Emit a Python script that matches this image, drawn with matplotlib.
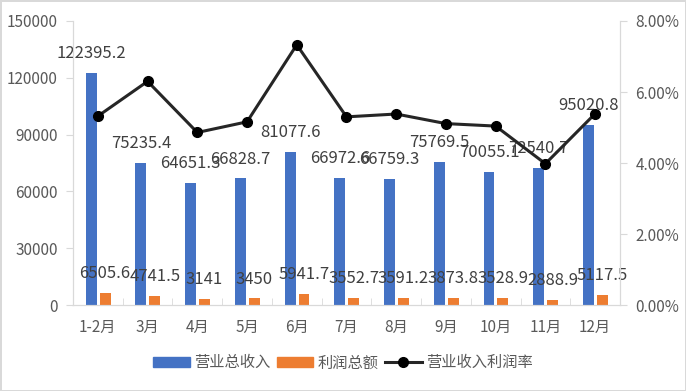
import matplotlib.pyplot as plt
import numpy as np
from matplotlib.lines import Line2D
from matplotlib.patches import Patch

plt.rcParams['font.family'] = ['Noto Sans CJK SC', 'DejaVu Sans']

# data
months = ['1-2月', '3月', '4月', '5月', '6月', '7月', '8月', '9月', '10月', '11月', '12月']
revenue = [122395.2, 75235.4, 64651.3, 66828.7, 81077.6, 66972.6, 66759.3, 75769.5, 70055.1, 72540.7, 95020.8]
profit = [6505.6, 4741.5, 3141, 3450, 5941.7, 3552.7, 3591.2, 3873.8, 3528.9, 2888.9, 5117.5]
rate = [5.32, 6.30, 4.86, 5.16, 7.33, 5.30, 5.38, 5.11, 5.04, 3.98, 5.39]

blue = '#4472c4'
orange = '#ed7d31'
grid_gray = '#d9d9d9'
tick_gray = '#595959'
label_dark = '#404040'

fig = plt.figure(figsize=(6.86, 3.91), dpi=100)
fig.patch.set_edgecolor(grid_gray)
fig.patch.set_linewidth(2)
ax = fig.add_axes([0.1064, 0.2199, 0.7974, 0.7264])
ax2 = ax.twinx()

x = np.arange(len(months))
w = 0.22
ax.bar(x - 0.135, revenue, w, color=blue)
ax.bar(x + 0.145, profit, w, color=orange)

for i in range(len(months)):
    ax.annotate(str(revenue[i]), (x[i] - 0.135, revenue[i]), xytext=(0, 14),
                textcoords='offset points', ha='center', va='center',
                fontsize=12, color=label_dark)
    ax.annotate(str(profit[i]), (x[i] + 0.145, profit[i]), xytext=(0, 14),
                textcoords='offset points', ha='center', va='center',
                fontsize=12, color=label_dark)

ax2.plot(x, [r / 100 for r in rate], color='#262626', lw=2.2, marker='o',
         ms=7, mfc='black', mec='black')

ax.set_xlim(-0.5, len(months) - 0.5)
ax.set_ylim(0, 150000)
ax.set_yticks(range(0, 150001, 30000))
ax2.set_ylim(0, 0.08)
ax2.set_yticks([0, 0.02, 0.04, 0.06, 0.08])
ax2.set_yticklabels([f'{v * 100:.2f}%' for v in [0, 0.02, 0.04, 0.06, 0.08]])

ax.set_xticks(x)
ax.set_xticklabels(months)
ax.set_xticks(np.arange(-0.5, len(months), 1), minor=True)
ax.tick_params(axis='x', which='major', length=0, pad=10, labelsize=11, labelcolor=tick_gray)
ax.tick_params(axis='x', which='minor', length=5, direction='in', color=grid_gray)
ax.tick_params(axis='y', length=5, color=grid_gray, labelsize=11, labelcolor=tick_gray, pad=6)
ax2.tick_params(axis='y', length=5, color=grid_gray, labelsize=11, labelcolor=tick_gray, pad=6)

for a in (ax, ax2):
    a.spines['top'].set_visible(False)
    for s in ('left', 'right', 'bottom'):
        a.spines[s].set_color(grid_gray)

handles = [Patch(color=blue), Patch(color=orange),
           Line2D([], [], color='#262626', lw=2.2, marker='o', ms=7, mfc='black', mec='black')]
fig.legend(handles, ['营业总收入', '利润总额', '营业收入利润率'], loc='center',
           bbox_to_anchor=(0.5, 0.072), ncol=3, frameon=False, fontsize=11,
           labelcolor=tick_gray, handlelength=2.4, handleheight=0.6,
           handletextpad=0.3, columnspacing=0.4)

fig.savefig('out.png', dpi=100)
